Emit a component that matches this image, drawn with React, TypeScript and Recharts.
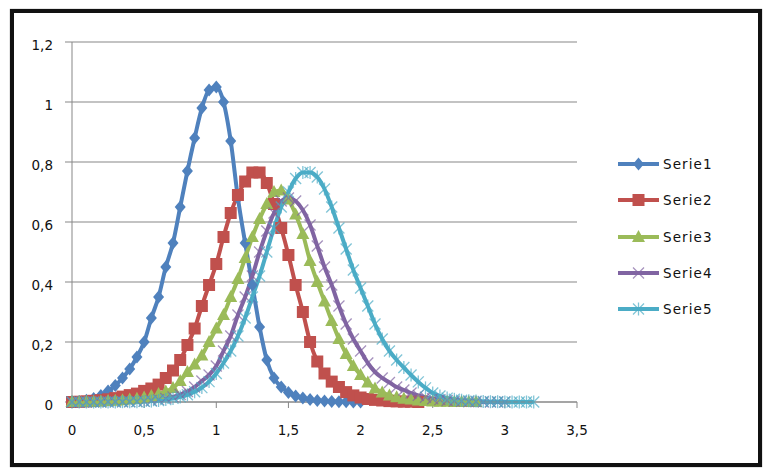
import React from "react";
import { LineChart, Line, XAxis, YAxis, CartesianGrid } from "recharts";

// x positions shared by all series (step 0.05)
const xs = [
  0, 0.05, 0.1, 0.15, 0.2, 0.25, 0.3, 0.35, 0.4, 0.45,
  0.5, 0.55, 0.6, 0.65, 0.7, 0.75, 0.8, 0.85, 0.9, 0.95,
  1, 1.05, 1.1, 1.15, 1.2, 1.25, 1.3, 1.35, 1.4, 1.45,
  1.5, 1.55, 1.6, 1.65, 1.7, 1.75, 1.8, 1.85, 1.9, 1.95,
  2, 2.05, 2.1, 2.15, 2.2, 2.25, 2.3, 2.35, 2.4, 2.45,
  2.5, 2.55, 2.6, 2.65, 2.7, 2.75, 2.8, 2.85, 2.9, 2.95,
  3, 3.05, 3.1, 3.15, 3.2,
];

const serie1 = [
  0, 0.002, 0.006, 0.012, 0.022, 0.037, 0.055, 0.08, 0.11, 0.15,
  0.2, 0.28, 0.35, 0.45, 0.53, 0.65, 0.77, 0.88, 0.98, 1.04,
  1.05, 1.0, 0.87, 0.68, 0.53, 0.39, 0.25, 0.14, 0.08, 0.05,
  0.032, 0.02, 0.013, 0.008, 0.005, 0.003, 0.002, 0.001, 0.001, 0,
  0,
];

const serie2 = [
  0, 0.001, 0.002, 0.004, 0.006, 0.009, 0.013, 0.018, 0.023, 0.028,
  0.037, 0.045, 0.058, 0.08, 0.105, 0.14, 0.19, 0.245, 0.32, 0.39,
  0.46, 0.55, 0.63, 0.69, 0.735, 0.765, 0.765, 0.73, 0.66, 0.58,
  0.49, 0.39, 0.3, 0.2, 0.135, 0.095, 0.068, 0.05, 0.033, 0.022,
  0.015, 0.01, 0.007, 0.005, 0.003, 0.002, 0.001, 0.001, 0,
];

const serie3 = [
  0, 0, 0.001, 0.001, 0.002, 0.003, 0.004, 0.006, 0.008, 0.011,
  0.015, 0.02, 0.027, 0.035, 0.047, 0.07, 0.1, 0.125, 0.155, 0.2,
  0.245, 0.29, 0.35, 0.41, 0.48, 0.55, 0.61, 0.66, 0.7, 0.705,
  0.675, 0.625, 0.56, 0.47, 0.4, 0.335, 0.27, 0.21, 0.16, 0.12,
  0.09, 0.065, 0.045, 0.032, 0.022, 0.016, 0.011, 0.008, 0.005, 0.003,
  0.002, 0.001, 0.001, 0, 0, 0, 0,
];

const serie4 = [
  0, 0, 0, 0, 0, 0.001, 0.001, 0.001, 0.001, 0.002,
  0.003, 0.005, 0.008, 0.012, 0.017, 0.025, 0.035, 0.05, 0.07, 0.09,
  0.12, 0.17, 0.22, 0.29, 0.35, 0.42, 0.5, 0.57, 0.63, 0.67,
  0.68, 0.67, 0.64, 0.59, 0.52, 0.45, 0.39, 0.32, 0.26, 0.21,
  0.17, 0.13, 0.1, 0.08, 0.065, 0.05, 0.04, 0.03, 0.022, 0.016,
  0.011, 0.008, 0.005, 0.003, 0.002, 0.001, 0.001, 0, 0, 0,
  0,
];

const serie5 = [
  0, 0, 0, 0, 0, 0, 0, 0.001, 0.001, 0.001,
  0.002, 0.003, 0.005, 0.008, 0.012, 0.017, 0.024, 0.034, 0.048, 0.068,
  0.095, 0.13, 0.17, 0.22, 0.28, 0.35, 0.42, 0.5, 0.58, 0.65,
  0.7, 0.745, 0.765, 0.765, 0.75, 0.71, 0.65, 0.58, 0.51, 0.44,
  0.38, 0.32, 0.26, 0.21, 0.17, 0.14, 0.115, 0.09, 0.067, 0.047,
  0.03, 0.02, 0.013, 0.009, 0.006, 0.004, 0.003, 0.002, 0.001, 0.001,
  0, 0, 0, 0, 0,
];

const xTicks = [0, 0.5, 1, 1.5, 2, 2.5, 3, 3.5];
const yTicks = [0, 0.2, 0.4, 0.6, 0.8, 1, 1.2];

type Marker = "diamond" | "square" | "triangle" | "cross" | "star";

const series: { key: string; name: string; color: string; marker: Marker; values: number[] }[] = [
  { key: "s1", name: "Serie1", color: "#4F81BD", marker: "diamond", values: serie1 },
  { key: "s2", name: "Serie2", color: "#C0504D", marker: "square", values: serie2 },
  { key: "s3", name: "Serie3", color: "#9BBB59", marker: "triangle", values: serie3 },
  { key: "s4", name: "Serie4", color: "#8064A2", marker: "cross", values: serie4 },
  { key: "s5", name: "Serie5", color: "#4BACC6", marker: "star", values: serie5 },
];

const data = xs.map((x, i) => {
  const row: Record<string, number | null> = { x };
  series.forEach((s) => {
    row[s.key] = i < s.values.length ? s.values[i] : null;
  });
  return row;
});

const FONT = "'DejaVu Sans', Verdana, sans-serif";
const GRID = "#878787";

function shape(kind: Marker, cx: number, cy: number, color: string, k?: string) {
  switch (kind) {
    case "diamond":
      return (
        <path key={k} d={`M${cx},${cy - 6.5}L${cx + 5.5},${cy}L${cx},${cy + 6.5}L${cx - 5.5},${cy}Z`} fill={color} />
      );
    case "square":
      return <rect key={k} x={cx - 6} y={cy - 6} width={12} height={12} fill={color} />;
    case "triangle":
      return <path key={k} d={`M${cx},${cy - 7}L${cx + 6.5},${cy + 5}L${cx - 6.5},${cy + 5}Z`} fill={color} />;
    case "cross":
      return (
        <g key={k} stroke={color} strokeWidth={1.3} opacity={0.7}>
          <line x1={cx - 5.5} y1={cy - 5.5} x2={cx + 5.5} y2={cy + 5.5} />
          <line x1={cx - 5.5} y1={cy + 5.5} x2={cx + 5.5} y2={cy - 5.5} />
        </g>
      );
    default:
      return (
        <g key={k} stroke={color} strokeWidth={1.3} opacity={0.7}>
          <line x1={cx - 5.5} y1={cy - 5.5} x2={cx + 5.5} y2={cy + 5.5} />
          <line x1={cx - 5.5} y1={cy + 5.5} x2={cx + 5.5} y2={cy - 5.5} />
          <line x1={cx} y1={cy - 6.5} x2={cx} y2={cy + 6.5} />
        </g>
      );
  }
}

const makeDot = (kind: Marker, color: string) => (props: any) => {
  const { cx, cy, index, value } = props;
  if (cx == null || cy == null || value == null) return <g key={`e-${index}`} />;
  return shape(kind, cx, cy, color, `d-${index}`);
};

const fmt = (v: number) => String(v).replace(".", ",");

export default function App() {
  return (
    <div style={{ position: "absolute", left: 0, top: 0, width: 770, height: 475, background: "#fff", overflow: "hidden" }}>
      <div
        style={{
          position: "absolute",
          left: 10,
          top: 9,
          width: 752,
          height: 458,
          boxSizing: "border-box",
          border: "4.5px solid #111",
          boxShadow: "0 0 1px #666",
        }}
      />
      <div style={{ position: "absolute", left: 0, top: 0 }}>
        <LineChart width={770} height={475} data={data} margin={{ top: 42, right: 193, bottom: 43, left: 0 }}>
          <CartesianGrid vertical={false} stroke={GRID} strokeWidth={1} />
          <XAxis
            dataKey="x"
            type="number"
            domain={[0, 3.5]}
            ticks={xTicks}
            tickFormatter={fmt}
            height={30}
            tickSize={6}
            tickMargin={17}
            stroke={GRID}
            tick={{ fontSize: 13.5, fill: "#111", fontFamily: FONT }}
            interval={0}
          />
          <YAxis
            type="number"
            domain={[0, 1.2]}
            ticks={yTicks}
            tickFormatter={fmt}
            width={72}
            tickSize={7}
            tickMargin={12}
            stroke={GRID}
            tick={{ fontSize: 13.5, fill: "#111", fontFamily: FONT, dy: 3 }}
            interval={0}
          />
          {series.map((s) => (
            <Line
              key={s.key}
              dataKey={s.key}
              name={s.name}
              type="monotone"
              stroke={s.color}
              strokeWidth={4}
              dot={makeDot(s.marker, s.color)}
              activeDot={false}
              isAnimationActive={false}
            />
          ))}
        </LineChart>
      </div>
      {series.map((s, i) => (
        <div
          key={s.key}
          style={{
            position: "absolute",
            left: 617,
            top: 164 + i * 36.3 - 9,
            height: 18,
            display: "flex",
            alignItems: "center",
            fontFamily: FONT,
            fontSize: 13.5,
            letterSpacing: 1.1,
            color: "#111",
          }}
        >
          <svg width={44} height={18} style={{ display: "block" }}>
            <line x1={1} y1={9} x2={42} y2={9} stroke={s.color} strokeWidth={4} />
            {shape(s.marker, 21.5, 9, s.color)}
          </svg>
          <span style={{ marginLeft: 2 }}>{s.name}</span>
        </div>
      ))}
    </div>
  );
}
